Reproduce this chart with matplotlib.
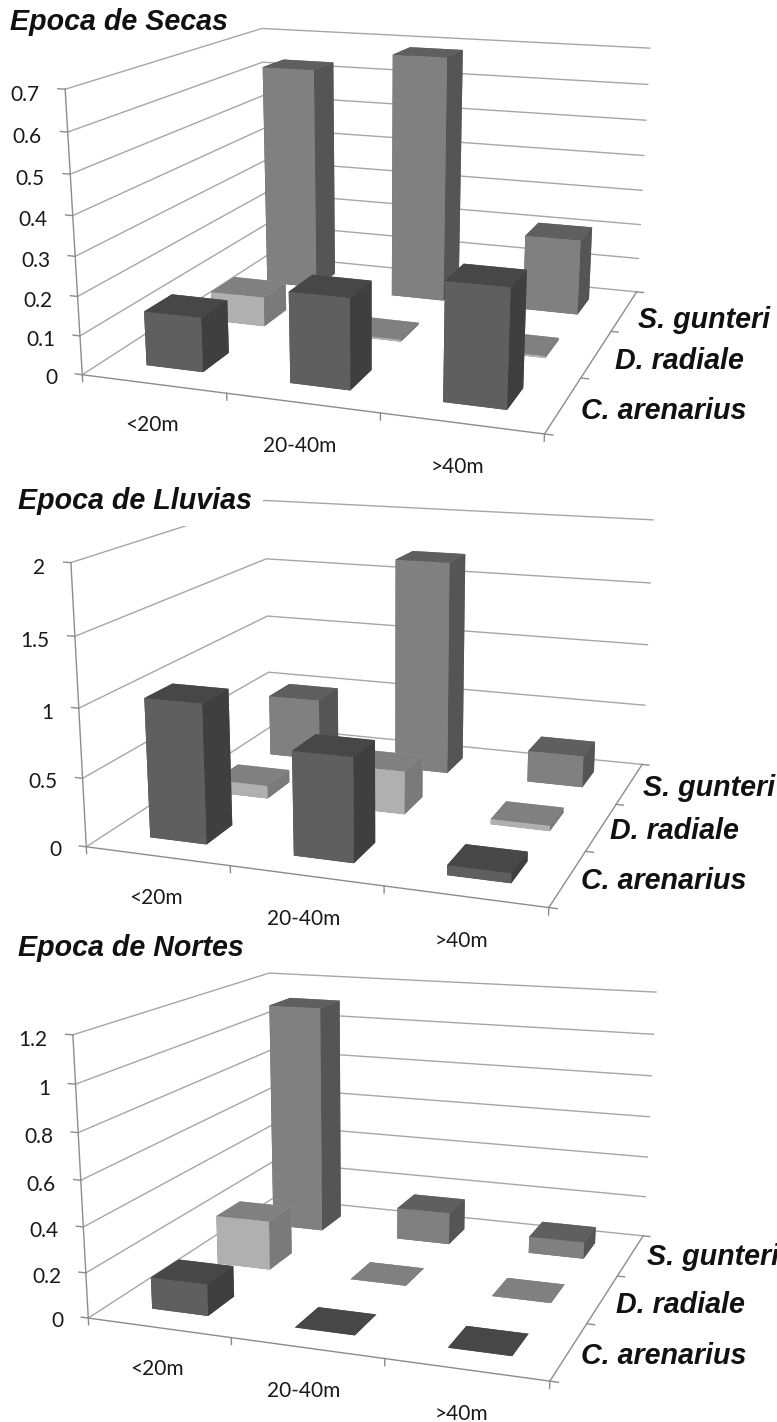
import numpy as np
import matplotlib

matplotlib.use("Agg")
import matplotlib.pyplot as plt
from mpl_toolkits.mplot3d import Axes3D

WIDTH, HEIGHT = 777, 1422

depths = ["<20m", "20-40m", ">40m"]
species = ["C. arenarius", "D. radiale", "S. gunteri"]

secas_c = [0.14, 0.23, 0.295]
secas_d = [0.08, 0.005, 0.005]
secas_s = [0.63, 0.685, 0.21]

lluvias_c = [1.02, 0.75, 0.07]
lluvias_d = [0.10, 0.33, 0.04]
lluvias_s = [0.50, 1.70, 0.25]

nortes_c = [0.14, 0.0, 0.0]
nortes_d = [0.23, 0.0, 0.0]
nortes_s = [1.11, 0.155, 0.08]

secas_ticks = [0, 0.1, 0.2, 0.3, 0.4, 0.5, 0.6, 0.7]
lluvias_ticks = [0, 0.5, 1, 1.5, 2]
nortes_ticks = [0, 0.2, 0.4, 0.6, 0.8, 1, 1.2]

# where the corners of the plot box sit in the picture, in pixels:
# (0,0,0) (0,0,top) (3,0,0) (3,3,0) (3,3,top) (0,3,top) (0,3,0)
secas_box = [(81, 374), (66, 90), (545, 434), (636, 292), (650, 48), (261, 28), (268, 256)]
lluvias_box = [(86, 846), (71, 563), (549, 908), (642, 764), (653, 520), (265, 500), (270, 728)]
nortes_box = [(88, 1318), (73, 1035), (550, 1381), (643, 1236), (656, 992), (269, 973), (273.5, 1198)]

# bottom, top, front, back, left, right
# bottom takes the top colour: zero bars have both faces at the same depth
FACES = [
    ["#474747", "#474747", "#5f5f5f", "#5f5f5f", "#3f3f3f", "#3f3f3f"],
    ["#808080", "#808080", "#b0b0b0", "#b0b0b0", "#7a7a7a", "#7a7a7a"],
    ["#5f5f5f", "#5f5f5f", "#808080", "#808080", "#555555", "#555555"],
]
BAR = 0.40
GRID = "#a6a6a6"
AXIS = "#8c8c8c"
TICK_FONT = ["Lato", "DejaVu Sans"]
NAME_FONT = ["Liberation Sans", "DejaVu Sans"]


def fit_camera(box, top):
    world = [(0, 0, 0), (0, 0, top), (3, 0, 0), (3, 3, 0), (3, 3, top), (0, 3, top), (0, 3, 0)]
    rows = []
    for (x, y, z), (u, v) in zip(world, box):
        rows.append([x, y, z, 1, 0, 0, 0, 0, -u * x, -u * y, -u * z, -u])
        rows.append([0, 0, 0, 0, x, y, z, 1, -v * x, -v * y, -v * z, -v])
    cam = np.linalg.svd(np.array(rows, float))[2][-1].reshape(3, 4)
    w = cam[2] @ np.array([1.5, 1.5, top / 2, 1])
    return cam / w


def to_pixels(cam, x, y, z):
    u, v, w = cam @ np.array([x, y, z, 1.0])
    return u / w, v / w


class PinnedAxes3D(Axes3D):
    camera = None

    def apply_aspect(self, position=None):
        pass

    def get_proj(self):
        vx0, vx1 = self.viewLim.intervalx
        vy0, vy1 = self.viewLim.intervaly
        cam = self.camera
        row_x = (vx1 - vx0) / WIDTH * cam[0] + vx0 * cam[2]
        row_y = vy1 * cam[2] - (vy1 - vy0) / HEIGHT * cam[1]
        # -1/w: grows with distance and stays negative, so nothing gets clipped
        row_z = np.array([0, 0, 0, -1.0])
        return np.array([row_x, row_y, row_z, cam[2]])


def small_text(fig, px, py, text, ha):
    fig.text(px / WIDTH, 1 - py / HEIGHT, text, ha=ha, va="center", family=TICK_FONT,
             fontsize=15, color="#1a1a1a")


def draw_panel(fig, box, ticks, values):
    top = ticks[-1]
    ax = PinnedAxes3D(fig, [0, 0, 1, 1], computed_zorder=False)
    fig.add_axes(ax)
    ax.set_axis_off()
    ax.patch.set_visible(False)
    ax.camera = fit_camera(box, top)

    for t in ticks:
        ax.plot([0, 0, 3], [0, 3, 3], [t, t, t], color=GRID, lw=1.0, zorder=1)
        ax.plot([-0.05, 0], [0, 0], [t, t], color=AXIS, lw=1.0, zorder=1)
        px, py = to_pixels(ax.camera, -0.18, 0, t - 0.025 * top)
        small_text(fig, px, py, f"{t:g}", "right")
    ax.plot([0, 0, 3, 3], [0, 0, 0, 3], [top, 0, 0, 0], color=AXIS, lw=1.0, zorder=1)

    for i in range(4):
        ax.plot([i, i], [0, 0], [0, -0.025 * top], color=AXIS, lw=1.0, zorder=1)
        ax.plot([3, 3.05], [i, i], [0, 0], color=AXIS, lw=1.0, zorder=1)
    for i, name in enumerate(depths):
        px, py = to_pixels(ax.camera, i + 0.48, 0, -0.155 * top)
        small_text(fig, px, py, name, "center")

    order = 2
    for row in [2, 1, 0]:
        for col in [2, 1, 0]:
            x0 = col + 0.5 - BAR / 2
            y0 = row + 0.5 - BAR / 2
            ax.bar3d(x0, y0, 0, BAR, BAR, values[row][col], color=FACES[row],
                     shade=False, edgecolor="none", linewidth=0, zorder=order)
            order += 1
    return ax


def put_text(fig, px, py, text, **kw):
    fig.text(px / WIDTH, 1 - py / HEIGHT, text, family=NAME_FONT, fontsize=20.6,
             fontweight="bold", fontstyle="italic", color="#111111", va="center", **kw)


fig = plt.figure(figsize=(WIDTH / 100, HEIGHT / 100), dpi=100, facecolor="white")

draw_panel(fig, secas_box, secas_ticks, [secas_c, secas_d, secas_s])
draw_panel(fig, lluvias_box, lluvias_ticks, [lluvias_c, lluvias_d, lluvias_s])
draw_panel(fig, nortes_box, nortes_ticks, [nortes_c, nortes_d, nortes_s])

# the Lluvias title sits on a white box that hides part of the top gridline
put_text(fig, 10, 22, "Epoca de Secas")
put_text(fig, 18, 501, "Epoca de Lluvias", bbox=dict(facecolor="white", edgecolor="none", pad=8))
put_text(fig, 18, 948, "Epoca de Nortes")

for px, py, name in [(638, 320, species[2]), (615, 361, species[1]), (581, 411, species[0]),
                     (643, 788, species[2]), (610, 831, species[1]), (581, 881, species[0]),
                     (647, 1257, species[2]), (616, 1305, species[1]), (581, 1356, species[0])]:
    put_text(fig, px, py, name)

fig.savefig("out.png", dpi=100)
